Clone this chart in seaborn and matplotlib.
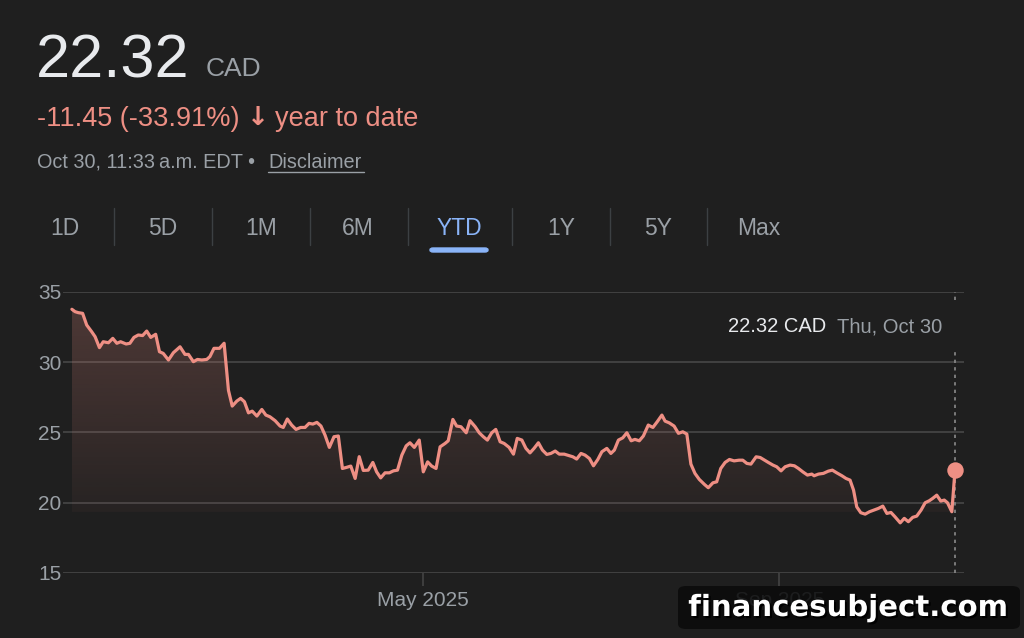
import numpy as np
import pandas as pd
import matplotlib
matplotlib.use('Agg')
import matplotlib.pyplot as plt
import matplotlib.dates as mdates
import matplotlib.patheffects as pe
from matplotlib.colors import to_rgb
from matplotlib.lines import Line2D
from matplotlib.patches import FancyBboxPatch
import seaborn as sns

# price points, x given as days after Dec 31 2024
day_offsets = [0, 1.1, 2.2, 3.7, 5.1, 6.8, 8.0, 9.5, 10.8, 12.6, 14.1, 15.5, 16.8, 18.7, 20.0, 21.4, 22.9, 24.4,
               25.8, 27.2, 28.9, 30.2, 31.5, 33.3, 35.0, 37.3, 39.0, 40.2, 41.9, 43.3, 44.8, 46.5, 47.6, 49.0, 50.9,
               52.5, 54.0, 55.3, 56.9, 58.2, 59.5, 60.9, 62.2, 63.8, 65.5, 66.9, 68.3, 70.1, 71.8, 72.9, 74.3, 75.8,
               77.3, 78.9, 80.4, 81.8, 83.1, 84.5, 85.9, 87.3, 88.8, 90.4, 91.9, 93.3, 94.6, 96.2, 97.7, 99.1, 100.5,
               102.2, 103.8, 105.1, 106.5, 108.0, 109.5, 110.9, 112.3, 113.8, 115.3, 116.6, 118.1, 119.8, 121.2,
               122.7, 124.1, 125.6, 127.0, 128.7, 129.8, 131.4, 132.7, 134.2, 136.0, 137.3, 139.1, 140.5, 141.9,
               143.3, 144.8, 146.2, 147.7, 149.1, 150.8, 152.3, 153.6, 155.2, 156.6, 158.0, 159.4, 160.9, 162.3,
               163.8, 165.2, 166.7, 168.1, 169.8, 171.2, 172.8, 174.1, 175.6, 177.0, 178.5, 179.9, 181.4, 182.8,
               184.5, 185.9, 187.1, 188.5, 190.0, 191.4, 192.9, 194.2, 195.7, 197.1, 198.8, 200.4, 201.9, 203.5,
               204.6, 206.0, 207.7, 209.2, 210.7, 212.1, 213.5, 214.9, 216.4, 218.2, 219.5, 221.1, 222.4, 223.8,
               225.3, 226.8, 228.4, 230.1, 231.4, 232.8, 234.2, 236.0, 237.4, 238.9, 240.2, 241.8, 243.1, 244.6,
               246.0, 247.7, 249.2, 250.6, 252.1, 253.7, 255.2, 256.0, 257.5, 259.2, 260.9, 262.3, 263.8, 265.6,
               267.0, 268.4, 269.6, 270.7, 272.1, 273.6, 275.1, 276.7, 278.2, 279.7, 281.1, 282.5, 283.9, 285.7,
               287.1, 288.5, 290.0, 291.4, 292.9, 294.3, 295.7, 296.9, 298.3, 299.7, 300.9, 302.0, 303.5, 304.6]
prices = [33.77, 33.60, 33.53, 33.48, 32.65, 32.18, 31.82, 31.04, 31.46, 31.39, 31.70, 31.35, 31.46, 31.30, 31.35,
          31.77, 31.94, 31.90, 32.22, 31.77, 31.99, 30.75, 30.63, 30.16, 30.68, 31.10, 30.56, 30.56, 30.04, 30.20,
          30.16, 30.20, 30.40, 30.99, 30.99, 31.35, 28.00, 26.88, 27.24, 27.43, 27.19, 26.40, 26.52, 26.17, 26.64,
          26.24, 26.12, 25.84, 25.46, 25.36, 25.96, 25.53, 25.22, 25.36, 25.36, 25.65, 25.60, 25.72, 25.46, 24.82,
          23.94, 24.70, 24.75, 22.44, 22.51, 22.61, 21.73, 23.28, 22.30, 22.32, 22.87, 22.20, 21.77, 22.13, 22.13,
          22.27, 22.32, 23.39, 24.05, 24.27, 23.94, 24.46, 22.20, 22.91, 22.61, 22.44, 23.98, 24.22, 24.41, 25.93,
          25.46, 25.41, 24.98, 25.84, 25.41, 24.98, 24.70, 24.46, 24.98, 25.22, 24.34, 24.22, 23.94, 23.46, 24.58,
          24.46, 23.87, 23.55, 23.87, 24.27, 23.75, 23.44, 23.51, 23.68, 23.46, 23.46, 23.37, 23.27, 23.11, 23.51,
          23.39, 23.15, 22.63, 23.08, 23.63, 23.87, 23.51, 23.75, 24.46, 24.62, 24.98, 24.41, 24.51, 24.41, 24.75,
          25.53, 25.36, 25.77, 26.24, 25.81, 25.69, 25.46, 24.94, 25.05, 24.89, 22.75, 22.09, 21.66, 21.30, 21.07,
          21.42, 21.49, 22.44, 22.87, 23.08, 22.98, 23.03, 23.03, 22.80, 22.75, 23.27, 23.22, 23.03, 22.87, 22.68,
          22.56, 22.27, 22.56, 22.68, 22.63, 22.44, 22.20, 21.97, 22.04, 21.92, 22.04, 22.09, 22.25, 22.32, 22.13,
          21.92, 21.73, 21.61, 20.90, 19.71, 19.29, 19.19, 19.36, 19.48, 19.60, 19.76, 19.24, 19.31, 19.00, 18.57,
          18.89, 18.65, 18.96, 19.05, 19.48, 20.00, 20.14, 20.31, 20.54, 20.12, 20.19, 20.00, 19.36, 22.32]

price_now = '22.32'
currency = 'CAD'
change_text = '-11.45 (-33.91%)'
period_text = 'year to date'
stamp_text = 'Oct 30, 11:33\u2009a.m. EDT \u2022 '
last_date_text = 'Thu, Oct 30'
y_ticks = [15, 20, 25, 30, 35]
x_tick_dates = ['2025-05-01', '2025-09-01']
x_tick_labels = ['May 2025', 'Sep 2025']
ranges = ['1D', '5D', '1M', '6M', 'YTD', '1Y', '5Y', 'Max']
active_range = 'YTD'

bg = '#1f1f1f'
red = '#ee8f84'
grey = '#9aa0a6'
white = '#e8eaed'
blue = '#8ab4f8'
grid = '#444444'

sns.set_theme(style='dark')
plt.rcParams['font.family'] = ['Liberation Sans', 'DejaVu Sans']

start = pd.Timestamp('2024-12-31')
df = pd.DataFrame({'date': start + pd.to_timedelta(day_offsets, unit='D'), 'price': prices})

W, H = 1024, 638
fig = plt.figure(figsize=(W / 100, H / 100), dpi=100, facecolor=bg)


def px(x, y):
    return x / W, 1 - y / H


ax = fig.add_axes([63 / W, 1 - 573 / H, (964 - 63) / W, (573 - 292) / H])
ax.set_facecolor(bg)

# gradient fill under the line
fill_floor = 19.35
poly = ax.fill_between(df['date'], df['price'], fill_floor, color='none', lw=0)
rgba = np.zeros((256, 1, 4))
rgba[..., :3] = to_rgb(red)
rgba[..., 3] = np.linspace(0.24, 0.04, 256).reshape(-1, 1)
xnum = mdates.date2num(df['date'])
im = ax.imshow(rgba, aspect='auto', origin='upper', zorder=1,
               extent=[xnum.min(), xnum.max(), fill_floor, 35])
im.set_clip_path(poly.get_paths()[0], transform=ax.transData)

sns.lineplot(data=df, x='date', y='price', ax=ax, color=red, linewidth=2.3, zorder=3)
last = df.iloc[-1]
ax.scatter([last['date']], [last['price']], s=140, color=red, zorder=4, linewidths=0)
ax.axvline(last['date'], 0, 0.80, color='#8a8a8a', lw=1.2, ls=(0, (2, 2.5)), zorder=2)
ax.axvline(last['date'], 0.971, 1.0, color='#8a8a8a', lw=1.2, ls=(0, (2, 2.5)), zorder=2)

ax.set_xlim(start - pd.Timedelta(days=3.07), start + pd.Timedelta(days=307.7))
ax.set_ylim(15, 35)
ax.set_yticks(y_ticks)
ax.set_yticklabels([str(t) for t in y_ticks])
ax.set_xticks(pd.to_datetime(x_tick_dates))
ax.set_xticklabels(x_tick_labels)
ax.grid(axis='y', color=grid, lw=1.3)
ax.grid(axis='x', visible=False)
for s in ax.spines.values():
    s.set_visible(False)
ax.tick_params(axis='y', length=0, pad=1, labelsize=15, labelcolor=grey)
ax.tick_params(axis='x', length=9, width=1.2, color=grid, pad=4, labelsize=15, labelcolor=grey,
               bottom=True, direction='out')
ax.set_xlabel('')
ax.set_ylabel('')

# header
fig.text(*px(36, 77), price_now, fontsize=44, color=white, va='baseline')
fig.text(*px(206, 76), currency, fontsize=19, color=grey, va='baseline')
fig.text(*px(37, 126), change_text, fontsize=19.5, color=red, va='baseline')
fig.text(*px(247, 125), '\u2193', fontsize=19, color=red, va='baseline', fontweight='bold', family='DejaVu Sans')
fig.text(*px(275, 126), period_text, fontsize=19.5, color=red, va='baseline')
fig.text(*px(37, 168), stamp_text, fontsize=14.3, color=grey, va='baseline')
fig.text(*px(268, 168), 'Disclaimer', fontsize=14.3, color=grey, va='baseline')
fig.add_artist(Line2D([268 / W, 364 / W], [1 - 171.5 / H] * 2, color=grey, lw=1))

# range tabs
tab_centers = [65, 163, 261, 358, 459, 561, 658, 759]
for name, cx in zip(ranges, tab_centers):
    fig.text(*px(cx, 235), name, fontsize=16.5, ha='center', va='baseline',
             color=blue if name == active_range else grey)
for sx in [114, 212, 309.5, 407.5, 512, 610, 707]:
    fig.add_artist(Line2D([sx / W] * 2, [1 - 208 / H, 1 - 245 / H], color='#3c4043', lw=1))
fig.patches.append(FancyBboxPatch(px(430, 252), 58 / W, 4 / H, boxstyle='round,pad=0,rounding_size=0.003',
                                  transform=fig.transFigure, color=blue, figure=fig))

# hover label
fig.text(*px(826, 332), f'{price_now} {currency}', fontsize=14.5, color=white, ha='right', va='baseline')
fig.text(*px(942, 332), last_date_text, fontsize=14.5, color=grey, ha='right', va='baseline')

# watermark
fig.patches.append(FancyBboxPatch(px(678, 629), 342 / W, 43 / H,
                                  boxstyle='round,pad=0,rounding_size=0.008',
                                  transform=fig.transFigure, facecolor='#0b0b0b', alpha=0.88,
                                  edgecolor='none', figure=fig, zorder=5))
fig.text(*px(848, 608), 'financesubject.com', fontsize=21, color='white', fontweight='bold',
         family='DejaVu Sans', ha='center', va='center', zorder=6,
         path_effects=[pe.withSimplePatchShadow(offset=(1.5, -1.5), shadow_rgbFace='black', alpha=1)])

fig.savefig('out.png', dpi=100, facecolor=bg)
